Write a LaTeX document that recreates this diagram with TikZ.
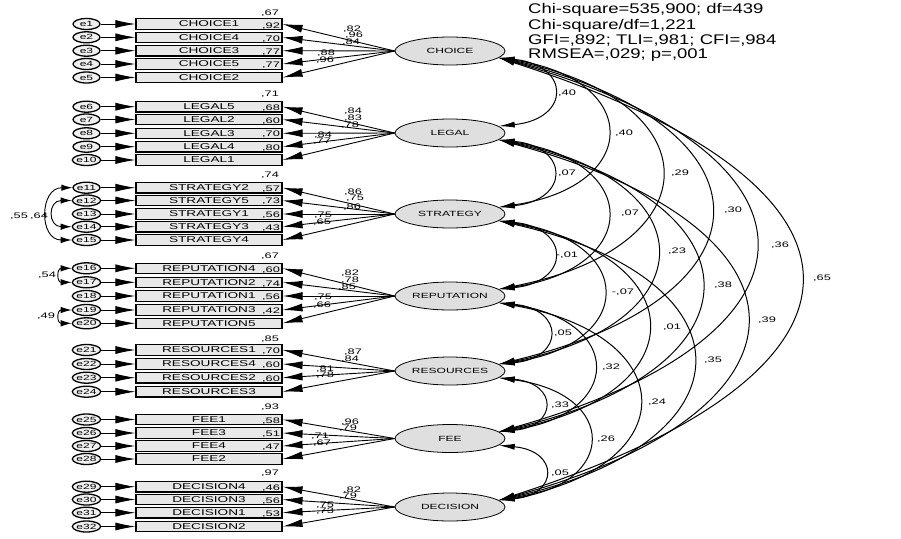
\documentclass[tikz,border=0pt]{standalone}
\usepackage{fontspec}
\setmainfont{Liberation Sans}
\newfontfamily\amos[FakeStretch=1.6]{Liberation Sans}
\newfontfamily\amosfit[FakeStretch=1.32]{Liberation Sans}
\usetikzlibrary{shapes.geometric,arrows.meta}
\begin{document}
\begin{tikzpicture}[x=1pt,y=-1pt,
  err/.style={ellipse,draw,line width=1.3pt,fill=gray!12,minimum width=27pt,minimum height=11pt,inner sep=0pt,font=\amos\fontsize{7.5}{8}\selectfont},
  obs/.style={rectangle,draw,line width=1.1pt,fill=gray!18,minimum width=146pt,minimum height=10.5pt,inner sep=0pt,font=\amos\fontsize{8.5}{9}\selectfont},
  lat/.style={ellipse,draw,line width=0.8pt,fill=gray!25,minimum width=110pt,minimum height=28pt,inner sep=0pt,font=\amos\fontsize{7.5}{9}\selectfont},
  val/.style={inner sep=0pt,font=\amos\fontsize{8}{9}\selectfont},
  fit/.style={inner sep=0pt,anchor=west,font=\amosfit\fontsize{14}{15}\selectfont},
  arr/.style={line width=0.9pt,-{Latex[length=20pt,width=8pt]}},
  cov/.style={line width=1pt,{Latex[length=16pt,width=6pt]}-{Latex[length=16pt,width=6pt]}},
  ecov/.style={line width=0.9pt,{Latex[length=11pt,width=6.5pt]}-{Latex[length=11pt,width=6.5pt]}},
]
\useasboundingbox[fill=white] (0,0) rectangle (901,538);

% latent factors
\node[lat] (choice) at (450,51) {CHOICE};
\node[lat] (legal) at (450,133) {LEGAL};
\node[lat] (strategy) at (450,214) {STRATEGY};
\node[lat] (reputation) at (450,296) {REPUTATION};
\node[lat] (resources) at (450,371) {RESOURCES};
\node[lat] (fee) at (450,438.5) {FEE};
\node[lat] (decision) at (450,507) {DECISION};

% observed variables and errors
\foreach \n/\t/\y [count=\i] in {
  c1/CHOICE1/24, c2/CHOICE4/37.3, c3/CHOICE3/50.7, c4/CHOICE5/64, c5/CHOICE2/77.5,
  l1/LEGAL5/106.7, l2/LEGAL2/119.5, l3/LEGAL3/133.3, l4/LEGAL4/146.7, l5/LEGAL1/160,
  s1/STRATEGY2/187.7, s2/STRATEGY5/200.5, s3/STRATEGY1/214, s4/STRATEGY3/226.7, s5/STRATEGY4/240,
  r1/REPUTATION4/268.3, r2/REPUTATION2/282.3, r3/REPUTATION1/296, r4/REPUTATION3/310, r5/REPUTATION5/323.3,
  q1/RESOURCES1/350, q2/RESOURCES4/364, q3/RESOURCES2/377.7, q4/RESOURCES3/391.7,
  f1/FEE1/419.5, f2/FEE3/433, f3/FEE4/446, f4/FEE2/459,
  d1/DECISION4/486.7, d2/DECISION3/499.5, d3/DECISION1/512.7, d4/DECISION2/526.5}{
  \node[obs] (\n) at (209,\y) {\t};
  \node[err] (e\i) at (86.5,\y) {e\i};
  \draw[arr] (e\i) -- (\n);
}

% loadings
\foreach \n in {c1,c2,c3,c4,c5} \draw[arr] (choice.west) -- (\n.east);
\foreach \n in {l1,l2,l3,l4,l5} \draw[arr] (legal.west) -- (\n.east);
\foreach \n in {s1,s2,s3,s4,s5} \draw[arr] (strategy.west) -- (\n.east);
\foreach \n in {r1,r2,r3,r4,r5} \draw[arr] (reputation.west) -- (\n.east);
\foreach \n in {q1,q2,q3,q4} \draw[arr] (resources.west) -- (\n.east);
\foreach \n in {f1,f2,f3,f4} \draw[arr] (fee.west) -- (\n.east);
\foreach \n in {d1,d2,d3,d4} \draw[arr] (decision.west) -- (\n.east);

% error covariances
\draw[ecov] (e11.west) .. controls +(-33,0) and +(-33,0) .. (e15.west);
\draw[ecov] (e12.west) .. controls +(-24,0) and +(-24,0) .. (e14.west);
\draw[ecov] (e16.west) .. controls +(-15,0) and +(-15,0) .. (e17.west);
\draw[ecov] (e19.west) .. controls +(-15,0) and +(-15,0) .. (e20.west);
\node[val] (k1) at (19,216) {,55};
\node[val] (k2) at (39,216) {,64};
\node[val] (k3) at (47,275.5) {,54};
\node[val] (k4) at (46,316.5) {,49};

% factor covariances
\foreach \a/\b/\d in {choice/legal/82, choice/strategy/163, choice/reputation/245, choice/resources/320, choice/fee/387.5, choice/decision/456,
  legal/strategy/81, legal/reputation/163, legal/resources/238, legal/fee/305.5, legal/decision/374,
  strategy/reputation/82, strategy/resources/157, strategy/fee/224.5, strategy/decision/293,
  reputation/resources/75, reputation/fee/142.5, reputation/decision/211,
  resources/fee/67.5, resources/decision/136, fee/decision/68.5}{
  \pgfmathsetmacro\cx{0.88*\d}
  \pgfmathsetmacro\cy{(0.05+0.0006*\d)*\cx}
  \draw[cov] (\a.-8) .. controls +(\cx,\cy) and +(\cx,-\cy) .. (\b.8);
}

% values
\foreach \x/\y/\t [count=\i] in {
  270/13/{,67}, 271/26/{,92}, 271/39/{,70}, 271/52/{,77}, 271/65.5/{,77},
  352/29/{,82}, 354/35.5/{,96}, 351/42.5/{,84}, 326/53/{,88}, 325/60/{,96},
  270/94.5/{,71}, 271/108/{,68}, 271/121/{,60}, 271/134.5/{,70}, 271/148/{,80},
  353/111/{,84}, 353/118/{,83}, 350/125.5/{,78}, 323/135/{,84}, 322/141/{,77},
  270/175/{,74}, 271/189/{,57}, 271/201.5/{,73}, 271/215/{,56}, 271/228/{,43},
  353/192/{,86}, 355/198/{,75}, 352/207/{,86}, 323/215/{,75}, 322/222/{,65},
  270/256/{,67}, 271/270/{,60}, 271/284/{,74}, 271/297.5/{,56}, 271/311.5/{,42},
  350/273/{,82}, 350/280.5/{,78}, 347/287.5/{,85}, 323/297/{,75}, 322/305/{,66},
  270/339.5/{,85}, 271/351.5/{,70}, 271/365.5/{,60}, 271/379/{,60},
  353/352.5/{,87}, 350/359/{,84}, 325/369/{,81}, 325/375/{,78},
  270/407/{,93}, 271/421/{,58}, 271/434/{,51}, 271/447/{,47},
  350/422/{,96}, 348/428/{,79}, 320/436.5/{,71}, 322/443/{,67},
  270/473.5/{,97}, 271/488/{,46}, 271/501/{,56}, 271/514/{,53},
  352/490/{,82}, 348/496.5/{,79}, 325/505/{,75}, 325/511.5/{,73},
  567/93/{,40}, 624/133/{,40}, 680/173/{,29}, 733/210/{,30}, 780/245/{,36}, 822/278/{,65},
  567/173/{,07}, 630/213/{,07}, 677/251/{,23}, 723/285/{,38}, 767/320/{,39},
  567/255/{-,01}, 623/292/{-,07}, 672/327/{,01}, 713/360/{,35},
  563/333/{,05}, 611/367/{,32}, 657/402/{,24},
  560/405/{,33}, 606/439/{,26}, 560/473/{,05}}{
  \node[val] (v\i) at (\x,\y) {\t};
}

% fit statistics
\node[fit] (fit1) at (528,10) {Chi-square=535,900; df=439};
\node[fit] (fit2) at (528,25.5) {Chi-square/df=1,221};
\node[fit] (fit3) at (528,41) {GFI=,892; TLI=,981; CFI=,984};
\node[fit] (fit4) at (528,55.5) {RMSEA=,029; p=,001};
\end{tikzpicture}
\end{document}
